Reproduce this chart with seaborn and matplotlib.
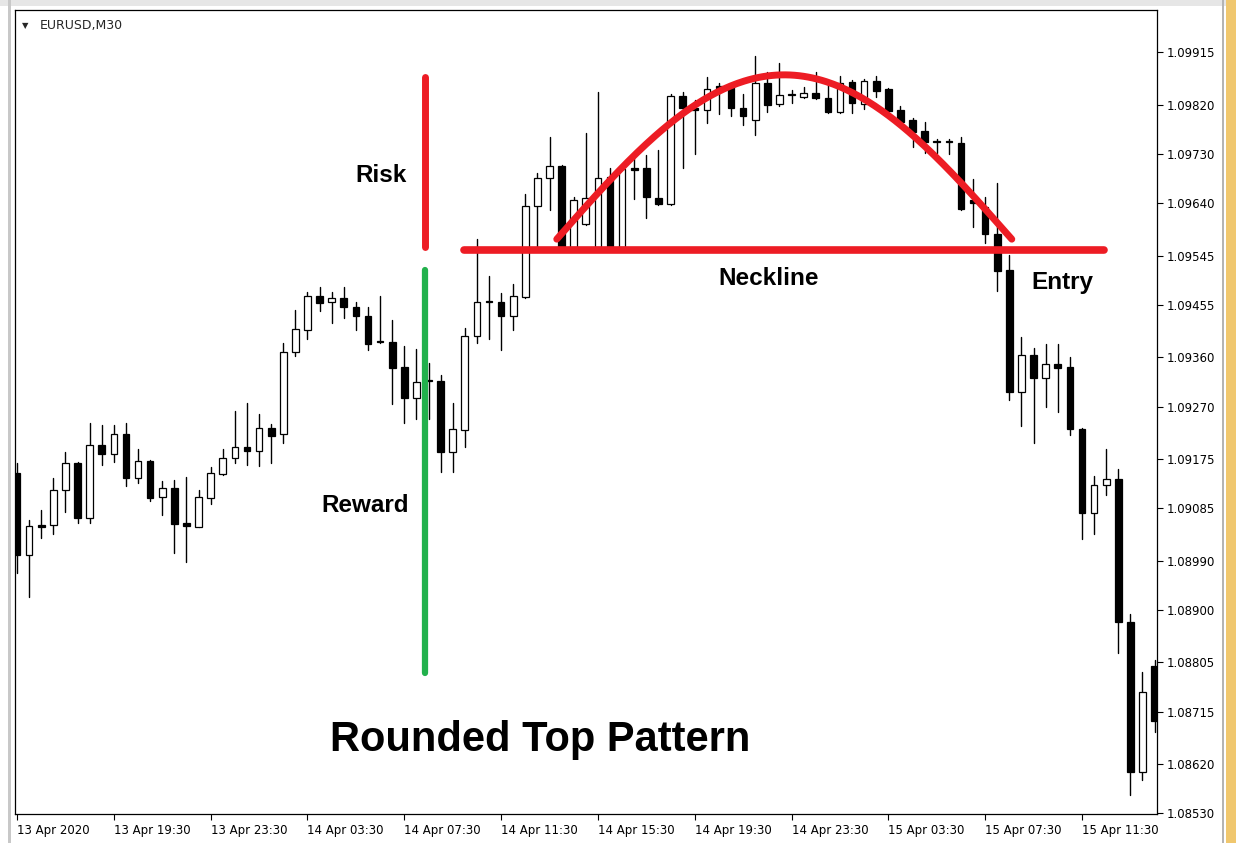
import numpy as np
import pandas as pd
import seaborn as sns
import matplotlib.pyplot as plt
from matplotlib.patches import Rectangle

# EURUSD M30 candles
opens = [1.09149, 1.09000, 1.09054, 1.09054, 1.09118, 1.09167, 1.09067, 1.09200, 1.09184, 1.09220,
         1.09140, 1.09171, 1.09105, 1.09122, 1.09058, 1.09051, 1.09104, 1.09147, 1.09176, 1.09196,
         1.09189, 1.09231, 1.09220, 1.09369, 1.09409, 1.09471, 1.09460, 1.09468, 1.09451, 1.09435,
         1.09389, 1.09388, 1.09342, 1.09286, 1.09318, 1.09317, 1.09187, 1.09227, 1.09398, 1.09462,
         1.09460, 1.09435, 1.09469, 1.09635, 1.09686, 1.09708, 1.09560, 1.09602, 1.09560, 1.09688,
         1.09560, 1.09704, 1.09704, 1.09650, 1.09639, 1.09835, 1.09813, 1.09810, 1.09853, 1.09855,
         1.09813, 1.09792, 1.09859, 1.09821, 1.09837, 1.09833, 1.09841, 1.09832, 1.09806, 1.09861,
         1.09821, 1.09863, 1.09848, 1.09810, 1.09792, 1.09772, 1.09753, 1.09753, 1.09750, 1.09646,
         1.09633, 1.09584, 1.09519, 1.09297, 1.09364, 1.09322, 1.09348, 1.09342, 1.09229, 1.09076,
         1.09127, 1.09138, 1.08878, 1.08605, 1.08798]
highs = [1.09167, 1.09064, 1.09082, 1.09140, 1.09187, 1.09169, 1.09240, 1.09236, 1.09236, 1.09240,
         1.09193, 1.09173, 1.09135, 1.09136, 1.09142, 1.09118, 1.09160, 1.09193, 1.09262, 1.09277,
         1.09257, 1.09238, 1.09386, 1.09446, 1.09479, 1.09488, 1.09479, 1.09488, 1.09460, 1.09451,
         1.09471, 1.09428, 1.09380, 1.09375, 1.09349, 1.09327, 1.09277, 1.09413, 1.09575, 1.09508,
         1.09477, 1.09493, 1.09657, 1.09695, 1.09761, 1.09710, 1.09651, 1.09768, 1.09843, 1.09704,
         1.09710, 1.09730, 1.09728, 1.09737, 1.09839, 1.09843, 1.09828, 1.09870, 1.09859, 1.09859,
         1.09839, 1.09908, 1.09879, 1.09895, 1.09846, 1.09852, 1.09879, 1.09855, 1.09872, 1.09864,
         1.09866, 1.09872, 1.09850, 1.09817, 1.09795, 1.09788, 1.09757, 1.09757, 1.09761, 1.09684,
         1.09651, 1.09677, 1.09546, 1.09397, 1.09377, 1.09384, 1.09384, 1.09360, 1.09231, 1.09144,
         1.09193, 1.09156, 1.08893, 1.08787, 1.08809]
lows = [1.08967, 1.08923, 1.09031, 1.09038, 1.09078, 1.09058, 1.09058, 1.09164, 1.09169, 1.09125,
        1.09131, 1.09098, 1.09073, 1.09004, 1.08987, 1.09051, 1.09093, 1.09145, 1.09167, 1.09164,
        1.09162, 1.09167, 1.09204, 1.09362, 1.09393, 1.09444, 1.09422, 1.09431, 1.09409, 1.09373,
        1.09386, 1.09275, 1.09240, 1.09247, 1.09247, 1.09151, 1.09151, 1.09196, 1.09386, 1.09393,
        1.09373, 1.09409, 1.09468, 1.09560, 1.09628, 1.09559, 1.09559, 1.09600, 1.09559, 1.09559,
        1.09559, 1.09648, 1.09613, 1.09637, 1.09637, 1.09704, 1.09730, 1.09786, 1.09803, 1.09799,
        1.09782, 1.09764, 1.09806, 1.09817, 1.09823, 1.09832, 1.09830, 1.09804, 1.09804, 1.09804,
        1.09812, 1.09833, 1.09797, 1.09786, 1.09742, 1.09732, 1.09732, 1.09730, 1.09628, 1.09597,
        1.09568, 1.09480, 1.09282, 1.09235, 1.09204, 1.09269, 1.09260, 1.09218, 1.09029, 1.09038,
        1.09109, 1.08822, 1.08563, 1.08590, 1.08678]
closes = [1.09000, 1.09053, 1.09051, 1.09118, 1.09167, 1.09067, 1.09200, 1.09184, 1.09220, 1.09140,
          1.09171, 1.09104, 1.09122, 1.09056, 1.09053, 1.09105, 1.09149, 1.09176, 1.09196, 1.09189,
          1.09231, 1.09216, 1.09369, 1.09411, 1.09471, 1.09459, 1.09468, 1.09451, 1.09435, 1.09384,
          1.09388, 1.09340, 1.09286, 1.09315, 1.09317, 1.09187, 1.09229, 1.09398, 1.09460, 1.09460,
          1.09435, 1.09471, 1.09635, 1.09686, 1.09708, 1.09560, 1.09646, 1.09650, 1.09686, 1.09560,
          1.09702, 1.09701, 1.09651, 1.09639, 1.09835, 1.09813, 1.09810, 1.09848, 1.09850, 1.09813,
          1.09799, 1.09859, 1.09819, 1.09837, 1.09839, 1.09841, 1.09832, 1.09806, 1.09859, 1.09823,
          1.09863, 1.09844, 1.09808, 1.09788, 1.09770, 1.09752, 1.09752, 1.09752, 1.09630, 1.09641,
          1.09584, 1.09517, 1.09297, 1.09364, 1.09322, 1.09348, 1.09340, 1.09229, 1.09076, 1.09127,
          1.09138, 1.08878, 1.08605, 1.08751, 1.08698]

time_labels = ["13 Apr 2020", "13 Apr 19:30", "13 Apr 23:30", "14 Apr 03:30", "14 Apr 07:30",
               "14 Apr 11:30", "14 Apr 15:30", "14 Apr 19:30", "14 Apr 23:30", "15 Apr 03:30",
               "15 Apr 07:30", "15 Apr 11:30"]
price_ticks = [1.09915, 1.09820, 1.09730, 1.09640, 1.09545, 1.09455, 1.09360, 1.09270,
               1.09175, 1.09085, 1.08990, 1.08900, 1.08805, 1.08715, 1.08620, 1.08530]

# annotation drawn on top of the chart (bar index, price)
risk_line = (33.7, 1.09870, 1.09560)
reward_line = (33.7, 1.09519, 1.08785)
neckline = (36.9, 89.8, 1.09555)
arc_start, arc_end, arc_base, arc_top = 44.6, 82.2, 1.09575, 1.09874

sns.set_theme(style="white")
plt.rcParams['font.family'] = ['DejaVu Sans']

bars = np.arange(len(opens))
df = pd.DataFrame({"bar": bars, "open": opens, "high": highs, "low": lows, "close": closes})

wicks = pd.concat([
    df[["bar", "low"]].rename(columns={"low": "price"}),
    df[["bar", "high"]].rename(columns={"high": "price"}),
]).sort_values("bar")

fig = plt.figure(figsize=(12.36, 8.43), dpi=100)
W, H = 1236, 843
ax = fig.add_axes([15 / W, 1 - 814 / H, (1157 - 15) / W, (814 - 10) / H])

sns.lineplot(data=wicks, x="bar", y="price", units="bar", estimator=None, sort=False,
             color="black", linewidth=1.0, ax=ax, legend=False)

body_low = df[["open", "close"]].min(axis=1)
body_h = (df["close"] - df["open"]).abs()
body_col = np.where(df["close"] >= df["open"], "white", "black")
ax.bar(df["bar"], body_h, bottom=body_low, width=0.55, color=body_col,
       edgecolor="black", linewidth=0.9, zorder=3)

# risk / reward / neckline / rounded top
red, green = "#ED1C24", "#22B14C"
ax.plot([risk_line[0]] * 2, risk_line[1:], color=red, lw=5, solid_capstyle="round", zorder=5)
ax.plot([reward_line[0]] * 2, reward_line[1:], color=green, lw=4.5, solid_capstyle="round", zorder=5)
ax.plot(neckline[:2], [neckline[2]] * 2, color=red, lw=5.5, solid_capstyle="round", zorder=5)
t = np.linspace(0, 1, 200)
ax.plot(arc_start + (arc_end - arc_start) * t, arc_base + (arc_top - arc_base) * np.sin(np.pi * t),
        color=red, lw=5, solid_capstyle="round", zorder=5)

bold = dict(family=["Liberation Sans", "DejaVu Sans"], fontweight="bold", color="black",
            ha="center", va="center", zorder=6)
ax.text(30.1, 1.09690, "Risk", fontsize=17.5, **bold)
ax.text(28.8, 1.09091, "Reward", fontsize=17.5, **bold)
ax.text(62.1, 1.09504, "Neckline", fontsize=17.5, **bold)
ax.text(86.4, 1.09497, "Entry", fontsize=17.5, **bold)
ax.text(43.2, 1.08663, "Rounded Top Pattern", fontsize=30, **bold)

ax.set_xlim(-0.17, 94.2)
ax.set_ylim(1.08529, 1.09992)
ax.set_xlabel("")
ax.set_ylabel("")

ax.set_xticks(bars[::8][:len(time_labels)])
ax.set_xticklabels(time_labels, ha="left", fontsize=8.5)
ax.set_yticks(price_ticks)
ax.set_yticklabels([f"{p:.5f}" for p in price_ticks], fontsize=8.5)
ax.yaxis.tick_right()
ax.tick_params(axis="both", direction="out", length=4, width=0.8, color="black",
               labelcolor="black", pad=3, bottom=True, right=True, left=False)
for s in ax.spines.values():
    s.set_color("black")
    s.set_linewidth(0.9)

fig.text(40 / W, 1 - 26 / H, "EURUSD,M30", fontsize=9, va="center", ha="left")
fig.text(25 / W, 1 - 26 / H, "\u25BC", fontsize=6, va="center", ha="center")

# window frame
fig.patches.append(Rectangle((0, 1 - 6 / H), 1, 6 / H, transform=fig.transFigure,
                             facecolor="#E6E6E6", edgecolor="none"))
fig.patches.append(Rectangle((8 / W, 0), 3 / W, 1, transform=fig.transFigure,
                             facecolor="#C8C8C8", edgecolor="none"))
fig.patches.append(Rectangle((1222 / W, 0), 2 / W, 1, transform=fig.transFigure,
                             facecolor="#B4B4B4", edgecolor="none"))
fig.patches.append(Rectangle((1226 / W, 0), 10 / W, 1, transform=fig.transFigure,
                             facecolor="#F0C76E", edgecolor="none"))

fig.savefig("out.png", dpi=100)
